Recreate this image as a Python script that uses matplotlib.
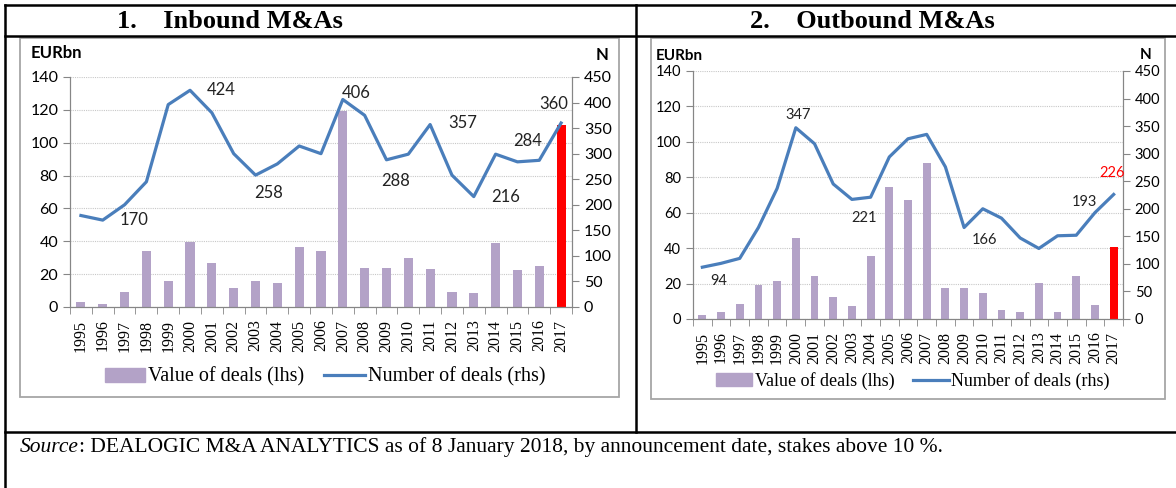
import matplotlib
matplotlib.use('Agg')

import matplotlib.pyplot as plt
import numpy as np
from matplotlib.lines import Line2D
from matplotlib.patches import Rectangle, Patch

years = [str(y) for y in range(1995, 2018)]

# inbound
in_value = [3, 2, 9.3, 34.2, 15.6, 39.4, 26.5, 11.3, 15.6, 14.6, 36.6, 34.2, 119.4,
            23.9, 23.9, 29.7, 23.3, 9.3, 8.7, 38.8, 22.7, 24.9, 110.7]
in_number = [179, 170, 200, 245, 396, 424, 380, 300, 258, 280, 315, 300, 406,
             375, 288, 299, 357, 258, 216, 299, 284, 287, 360]

# outbound
out_value = [2.4, 4.1, 8.3, 19.1, 21.6, 45.8, 24.4, 12.4, 7.1, 35.6, 74.7, 67.4, 88,
             17.6, 17.3, 14.8, 5.3, 4.1, 20.6, 3.8, 24.4, 8.1, 40.9]
out_number = [94, 101, 110, 166, 237, 347, 318, 245, 217, 221, 294, 327, 335,
              276, 166, 200, 183, 147, 128, 151, 152, 193, 226]

# labelled points: (index, dx px, dy px)
in_labels = [(1, 31, 0), (5, 31, 0), (8, 13, 18), (12, 13, -6), (14, 9, 21),
             (16, 33, -2), (18, 32, 0), (20, 10, -21), (22, -7, -19)]
out_labels = [(0, 16, 14), (5, 2, -13), (9, -7, 21), (14, 20, 12), (21, -11, -11), (22, -2, -21)]

W, H = 1176, 488
BAR = '#b3a2c7'
LINE = '#4a7ebb'
GRAY = '#868686'
SANS = 'Lato'
SERIF = 'Liberation Serif'

fig = plt.figure(figsize=(W / 100, H / 100), dpi=100)


def fx(px):
    return px / W


def fy(py):
    return 1 - py / H


# table lines
for (x0, y0, x1, y1) in [(5, 5, 1176, 5), (5, 36, 1176, 36), (5, 432, 1176, 432),
                         (5, 5, 5, 488), (636, 5, 636, 432)]:
    fig.add_artist(Line2D([fx(x0), fx(x1)], [fy(y0), fy(y1)], color='black', lw=1.8))

fig.text(fx(230), fy(21), '1.    Inbound M&As', family=SERIF, weight='bold', fontsize=19,
         ha='center', va='center')
fig.text(fx(872), fy(21), '2.    Outbound M&As', family=SERIF, weight='bold', fontsize=19,
         ha='center', va='center')

# chart boxes
for (x0, y0, x1, y1) in [(20, 38, 619, 397), (651, 38, 1165, 399)]:
    fig.add_artist(Rectangle((fx(x0), fy(y1)), fx(x1 - x0), (y1 - y0) / H,
                             fill=False, edgecolor='#a6a6a6', lw=1.3))


def draw(rect, values, numbers, labels, fs, lab_fs, eur_fs, leg_fs, leg_xy, eur_xy, n_xy, last_red):
    ax = fig.add_axes(rect)
    ax2 = ax.twinx()
    x = np.arange(len(years))
    colors = [BAR] * (len(years) - 1) + ['#ff0000']
    ax.bar(x, values, width=0.42, color=colors, zorder=2)
    ax2.plot(x, numbers, color=LINE, lw=2.3, zorder=3)

    ax.set_xlim(-0.5, len(years) - 0.5)
    ax.set_ylim(0, 140)
    ax.set_yticks(range(0, 141, 20))
    ax2.set_ylim(0, 450)
    ax2.set_yticks(range(0, 451, 50))
    ax.yaxis.grid(True, color='#c8c8c8', ls=(0, (1, 1)), lw=0.8)
    ax.set_axisbelow(True)

    ax.set_xticks(x)
    ax.set_xticklabels(years, rotation=90, family=SERIF, fontsize=11.5)
    ax.set_xticks(np.arange(-0.5, len(years)), minor=True)
    ax.tick_params(axis='x', which='major', length=0, pad=9)
    ax.tick_params(axis='x', which='minor', length=5, color=GRAY)
    ax.tick_params(axis='y', length=5, color=GRAY, labelsize=fs)
    ax2.tick_params(axis='y', length=5, color=GRAY, labelsize=fs)
    for lab in ax.get_yticklabels() + ax2.get_yticklabels():
        lab.set_family(SANS)

    for a in (ax, ax2):
        a.spines['top'].set_visible(False)
        for s in ('left', 'right', 'bottom'):
            a.spines[s].set_color(GRAY)
        a.patch.set_visible(False)

    for i, dx, dy in labels:
        col = 'red' if (i == len(years) - 1 and last_red) else '#222222'
        ax2.annotate(str(numbers[i]), xy=(i, numbers[i]), xytext=(dx * 0.72, -dy * 0.72),
                     textcoords='offset points', ha='center', va='center',
                     family=SANS, fontsize=lab_fs, color=col)

    fig.text(fx(eur_xy[0]), fy(eur_xy[1]), 'EURbn', family=SANS, weight='bold',
             fontsize=eur_fs, ha='left', va='center')
    fig.text(fx(n_xy[0]), fy(n_xy[1]), 'N', family=SANS, weight='bold',
             fontsize=eur_fs, ha='center', va='center')

    handles = [Patch(color=BAR), Line2D([], [], color=LINE, lw=2.3)]
    fig.legend(handles, ['Value of deals (lhs)', 'Number of deals (rhs)'],
               loc='center', bbox_to_anchor=(fx(leg_xy[0]), fy(leg_xy[1])), ncol=2,
               frameon=False, prop={'family': SERIF, 'size': leg_fs},
               handlelength=2.0, handleheight=0.7, handletextpad=0.15, columnspacing=1.0)


draw([fx(70), fy(307), fx(572 - 70), (307 - 77) / H], in_value, in_number, in_labels,
     11.5, 12, 12, 14.5, (325, 377), (31, 53), (602, 55), False)
draw([fx(693), fy(319), fx(1123 - 693), (319 - 71) / H], out_value, out_number, out_labels,
     10.5, 10.5, 11, 13, (913, 381), (656, 56), (1146, 55), True)

t1 = fig.text(fx(20), fy(447), 'Source', family=SERIF, style='italic', fontsize=15.5,
              ha='left', va='center')
fig.canvas.draw()
bb = t1.get_window_extent()
fig.text(bb.x1 / W, fy(447), ': DEALOGIC M&A ANALYTICS as of 8 January 2018, by announcement date, stakes above 10 %.',
         family=SERIF, fontsize=15.5, ha='left', va='center')

fig.savefig('out.png', dpi=100)
